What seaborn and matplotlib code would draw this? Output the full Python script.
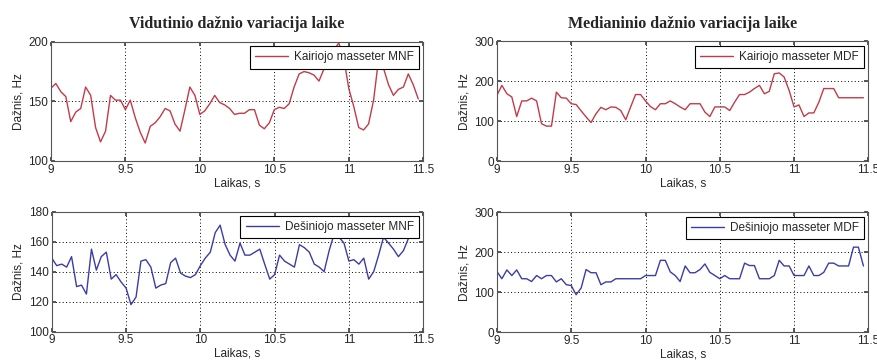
import numpy as np
import pandas as pd
import seaborn as sns
import matplotlib
matplotlib.use("Agg")
import matplotlib.pyplot as plt
from matplotlib.ticker import FormatStrFormatter

# time axis (s), one frame every ~1/30 s
time = [9.0, 9.033, 9.067, 9.1, 9.133, 9.167, 9.2, 9.233, 9.267, 9.3,
        9.333, 9.367, 9.4, 9.433, 9.467, 9.5, 9.533, 9.567, 9.6, 9.633,
        9.667, 9.7, 9.733, 9.767, 9.8, 9.833, 9.867, 9.9, 9.933, 9.967,
        10.0, 10.033, 10.067, 10.1, 10.133, 10.167, 10.2, 10.233, 10.267, 10.3,
        10.333, 10.367, 10.4, 10.433, 10.467, 10.5, 10.533, 10.567, 10.6, 10.633,
        10.667, 10.7, 10.733, 10.767, 10.8, 10.833, 10.867, 10.9, 10.933, 10.967,
        11.0, 11.033, 11.067, 11.1, 11.133, 11.167, 11.2, 11.233, 11.267, 11.3,
        11.333, 11.367, 11.4, 11.433, 11.467]

# Kairiojo masseter MNF
mnf_left = [161, 165, 158, 154, 133, 141, 144, 162, 155, 128,
            116, 125, 155, 151, 151, 143, 151, 136, 124, 115,
            129, 132, 137, 144, 142, 131, 125, 143, 162, 155,
            139, 142, 148, 155, 149, 147, 144, 139, 140, 140,
            143, 143, 130, 127, 132, 143, 145, 144, 148, 162,
            173, 175, 174, 172, 167, 177, 186, 193, 199, 186,
            161, 146, 128, 126, 131, 151, 185, 178, 164, 155,
            160, 162, 173, 164, 152]

# Kairiojo masseter MDF
mdf_left = [165, 190, 169, 161, 112, 151, 151, 158, 151, 94,
            88, 88, 173, 159, 158, 144, 142, 126, 111, 97,
            119, 135, 129, 136, 135, 127, 104, 136, 167, 167,
            151, 137, 129, 144, 144, 151, 144, 136, 129, 144,
            144, 144, 123, 112, 136, 136, 136, 127, 148, 167,
            167, 173, 182, 190, 169, 175, 219, 221, 211, 177,
            136, 141, 112, 121, 121, 148, 182, 182, 182, 159,
            159, 159, 159, 159, 159]

# Desiniojo masseter MNF
mnf_right = [149, 144, 145, 143, 150, 130, 131, 125, 155, 141,
             150, 153, 135, 138, 133, 129, 118, 123, 147, 148,
             143, 129, 131, 132, 146, 149, 139, 137, 136, 138,
             144, 149, 153, 166, 171, 158, 151, 147, 159, 151,
             151, 153, 155, 145, 135, 138, 151, 147, 145, 143,
             158, 156, 153, 145, 143, 140, 154, 165, 163, 159,
             147, 148, 145, 149, 135, 140, 151, 163, 159, 155,
             150, 154, 162, 168, 165]

# Desiniojo masseter MDF
mdf_right = [152, 134, 156, 142, 156, 134, 134, 127, 142, 134,
             142, 142, 126, 134, 119, 117, 94, 111, 157, 149,
             149, 119, 126, 126, 134, 134, 134, 134, 134, 134,
             142, 142, 142, 180, 180, 151, 142, 127, 166, 149,
             149, 157, 171, 150, 142, 134, 142, 134, 134, 134,
             173, 167, 167, 134, 134, 134, 142, 180, 166, 166,
             142, 142, 142, 166, 142, 142, 150, 173, 173, 166,
             166, 166, 213, 213, 166]

titles = ["Vidutinio dažnio variacija laike", "Medianinio dažnio variacija laike"]
labels = ["Kairiojo masseter MNF", "Kairiojo masseter MDF",
          "Dešiniojo masseter MNF", "Dešiniojo masseter MDF"]

sns.set_theme(style="white")
plt.rcParams["font.family"] = ["Liberation Sans", "DejaVu Sans"]

RED = "#c23b4a"
BLUE = "#3c3ca8"

fig = plt.figure(figsize=(8.78, 3.6), dpi=100)
pos = [[0.058, 0.553, 0.424, 0.331], [0.566, 0.552, 0.423, 0.333],
       [0.059, 0.079, 0.423, 0.333], [0.566, 0.077, 0.423, 0.333]]
series = [mnf_left, mdf_left, mnf_right, mdf_right]
colors = [RED, RED, BLUE, BLUE]
ylims = [(100, 200), (0, 300), (100, 180), (0, 300)]
ysteps = [50, 100, 20, 100]

for k in range(4):
    ax = fig.add_axes(pos[k])
    df = pd.DataFrame({"t": time, "f": series[k]})
    sns.lineplot(data=df, x="t", y="f", ax=ax, color=colors[k],
                 linewidth=1.0, label=labels[k])
    ax.set_xlim(9, 11.5)
    ax.set_ylim(*ylims[k])
    ax.set_xticks([9, 9.5, 10, 10.5, 11, 11.5])
    ax.set_yticks(np.arange(ylims[k][0], ylims[k][1] + 1, ysteps[k]))
    ax.xaxis.set_major_formatter(FormatStrFormatter("%g"))
    ax.grid(True, linestyle=(0, (1, 2.5)), color="black", linewidth=0.7)
    ax.tick_params(direction="in", length=3, labelsize=8.5, pad=2,
                   top=True, right=True, bottom=True, left=True, color="#444444")
    for s in ax.spines.values():
        s.set_color("#555555")
        s.set_linewidth(0.8)
    ax.set_xlabel("Laikas, s", fontsize=8.5, labelpad=1)
    ax.set_ylabel("Dažnis, Hz", fontsize=8.5, labelpad=3)
    leg = ax.legend(loc="upper right", fontsize=8.5, frameon=True, fancybox=False,
                    edgecolor="black", handlelength=2.8, handletextpad=0.5,
                    borderaxespad=0.35, borderpad=0.45, framealpha=1)
    leg.get_frame().set_linewidth(0.8)
    if k < 2:
        ax.set_title(titles[k], fontsize=11.5, fontweight="bold",
                     family="Liberation Serif", pad=10)

fig.savefig("out.png", dpi=100)
